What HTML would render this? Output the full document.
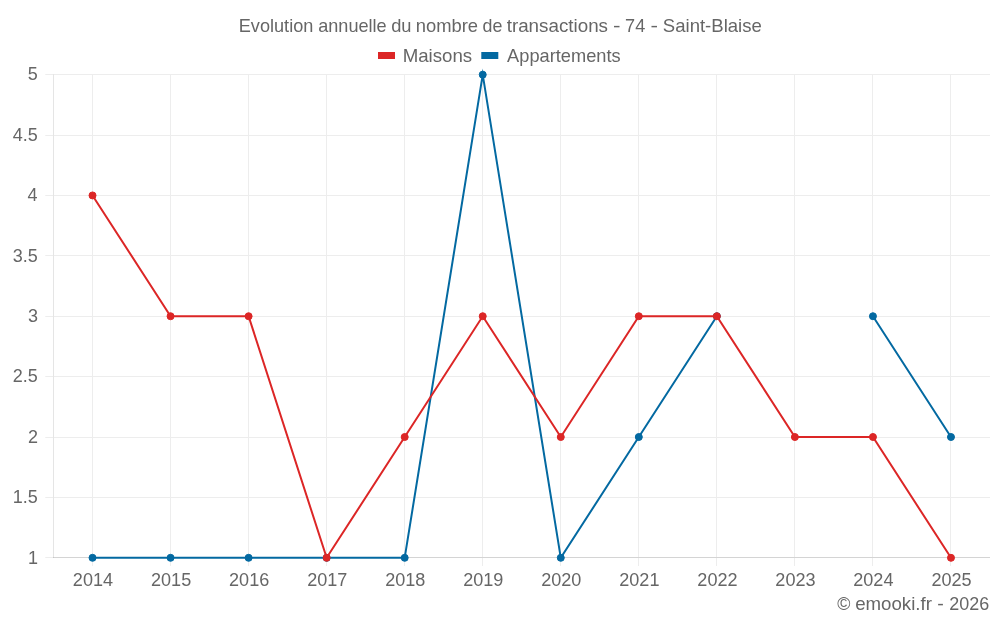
<!DOCTYPE html><html><head><meta charset="utf-8"><style>html,body{margin:0;padding:0;background:#fff}svg{display:block;will-change:transform}text{font-family:"Liberation Sans",sans-serif;font-size:18px;fill:#666666}</style></head><body>
<svg width="1000" height="625" viewBox="0 0 1000 625">
<rect width="1000" height="625" fill="#fff"/>
<g fill="#ededed">
<rect x="45.3" y="74" width="944.7" height="1"/>
<rect x="45.3" y="135" width="944.7" height="1"/>
<rect x="45.3" y="195" width="944.7" height="1"/>
<rect x="45.3" y="255" width="944.7" height="1"/>
<rect x="45.3" y="316" width="944.7" height="1"/>
<rect x="45.3" y="376" width="944.7" height="1"/>
<rect x="45.3" y="437" width="944.7" height="1"/>
<rect x="45.3" y="497" width="944.7" height="1"/>
<rect x="45.3" y="557" width="944.7" height="1"/>
<rect x="92" y="74" width="1" height="492"/>
<rect x="170" y="74" width="1" height="492"/>
<rect x="248" y="74" width="1" height="492"/>
<rect x="326" y="74" width="1" height="492"/>
<rect x="404" y="74" width="1" height="492"/>
<rect x="482" y="74" width="1" height="492"/>
<rect x="560" y="74" width="1" height="492"/>
<rect x="638" y="74" width="1" height="492"/>
<rect x="716" y="74" width="1" height="492"/>
<rect x="794" y="74" width="1" height="492"/>
<rect x="872" y="74" width="1" height="492"/>
<rect x="950" y="74" width="1" height="492"/>
<rect x="53" y="74" width="1" height="484" fill="#e5e5e5"/>
<rect x="53" y="557" width="937" height="1" fill="#d4d4d4"/><rect x="53" y="557" width="1" height="1" fill="#c6c6c6"/>
</g>
<path d="M92.52 557.80 L170.56 557.80 L248.60 557.80 L326.65 557.80 L404.69 557.80 L482.73 74.65 L560.77 557.80 L638.81 437.01 L716.85 316.22 M872.94 316.22 L950.98 437.01 " fill="none" stroke="#0369a1" stroke-width="2" stroke-linejoin="miter" stroke-miterlimit="10"/>
<circle cx="92.52" cy="557.80" r="3.5" fill="#0369a1" stroke="#0369a1" stroke-width="1"/>
<circle cx="170.56" cy="557.80" r="3.5" fill="#0369a1" stroke="#0369a1" stroke-width="1"/>
<circle cx="248.60" cy="557.80" r="3.5" fill="#0369a1" stroke="#0369a1" stroke-width="1"/>
<circle cx="326.65" cy="557.80" r="3.5" fill="#0369a1" stroke="#0369a1" stroke-width="1"/>
<circle cx="404.69" cy="557.80" r="3.5" fill="#0369a1" stroke="#0369a1" stroke-width="1"/>
<circle cx="482.73" cy="74.65" r="3.5" fill="#0369a1" stroke="#0369a1" stroke-width="1"/>
<circle cx="560.77" cy="557.80" r="3.5" fill="#0369a1" stroke="#0369a1" stroke-width="1"/>
<circle cx="638.81" cy="437.01" r="3.5" fill="#0369a1" stroke="#0369a1" stroke-width="1"/>
<circle cx="716.85" cy="316.22" r="3.5" fill="#0369a1" stroke="#0369a1" stroke-width="1"/>
<circle cx="872.94" cy="316.22" r="3.5" fill="#0369a1" stroke="#0369a1" stroke-width="1"/>
<circle cx="950.98" cy="437.01" r="3.5" fill="#0369a1" stroke="#0369a1" stroke-width="1"/>
<path d="M92.52 195.44 L170.56 316.22 L248.60 316.22 L326.65 557.80 L404.69 437.01 L482.73 316.22 L560.77 437.01 L638.81 316.22 L716.85 316.22 L794.90 437.01 L872.94 437.01 L950.98 557.80 " fill="none" stroke="#dc2626" stroke-width="2" stroke-linejoin="miter" stroke-miterlimit="10"/>
<circle cx="92.52" cy="195.44" r="3.5" fill="#dc2626" stroke="#dc2626" stroke-width="1"/>
<circle cx="170.56" cy="316.22" r="3.5" fill="#dc2626" stroke="#dc2626" stroke-width="1"/>
<circle cx="248.60" cy="316.22" r="3.5" fill="#dc2626" stroke="#dc2626" stroke-width="1"/>
<circle cx="326.65" cy="557.80" r="3.5" fill="#dc2626" stroke="#dc2626" stroke-width="1"/>
<circle cx="404.69" cy="437.01" r="3.5" fill="#dc2626" stroke="#dc2626" stroke-width="1"/>
<circle cx="482.73" cy="316.22" r="3.5" fill="#dc2626" stroke="#dc2626" stroke-width="1"/>
<circle cx="560.77" cy="437.01" r="3.5" fill="#dc2626" stroke="#dc2626" stroke-width="1"/>
<circle cx="638.81" cy="316.22" r="3.5" fill="#dc2626" stroke="#dc2626" stroke-width="1"/>
<circle cx="716.85" cy="316.22" r="3.5" fill="#dc2626" stroke="#dc2626" stroke-width="1"/>
<circle cx="794.90" cy="437.01" r="3.5" fill="#dc2626" stroke="#dc2626" stroke-width="1"/>
<circle cx="872.94" cy="437.01" r="3.5" fill="#dc2626" stroke="#dc2626" stroke-width="1"/>
<circle cx="950.98" cy="557.80" r="3.5" fill="#dc2626" stroke="#dc2626" stroke-width="1"/>
<rect x="378" y="52" width="17" height="7" fill="#dc2626"/>
<rect x="481.3" y="52" width="17" height="7" fill="#0369a1"/>
<text transform="translate(238.74,31.70) scale(1.0084,1.040)">Evolution</text>
<text transform="translate(318.20,31.70) scale(1.0060,1.040)">annuelle</text>
<text transform="translate(391.19,31.70) scale(1.0167,1.040)">du</text>
<text transform="translate(415.77,31.70) scale(1.0212,1.040)">nombre</text>
<text transform="translate(482.46,31.70) scale(0.9918,1.040)">de</text>
<text transform="translate(506.69,31.70) scale(1.0447,1.040)">transactions</text>
<text transform="translate(613.00,31.70) scale(1.2500,1.040)">-</text>
<text transform="translate(625.09,31.70) scale(1.0081,1.040)">74</text>
<text transform="translate(650.40,31.70) scale(1.2500,1.040)">-</text>
<text transform="translate(662.82,31.70) scale(1.0313,1.040)">Saint-Blaise</text>
<text transform="translate(402.69,61.70) scale(1.0378,1.040)">Maisons</text>
<text transform="translate(507.10,61.70) scale(1.0135,1.040)">Appartements</text>
<text transform="translate(837.30,609.70) scale(0.9921,1.000)">©</text>
<text transform="translate(855.17,609.70) scale(1.0370,1.040)">emooki.fr</text>
<text transform="translate(937.13,609.70) scale(1.0909,1.000)">-</text>
<text transform="translate(949.30,609.70) scale(0.9974,1.000)">2026</text>
<text transform="translate(27.80,80.45) scale(1.0000,1.010)">5</text>
<text transform="translate(12.80,140.84) scale(1.0000,1.010)">4.5</text>
<text transform="translate(27.60,201.24) scale(1.0000,1.010)">4</text>
<text transform="translate(12.80,261.63) scale(1.0000,1.010)">3.5</text>
<text transform="translate(27.90,322.03) scale(1.0000,1.010)">3</text>
<text transform="translate(12.80,382.42) scale(1.0000,1.010)">2.5</text>
<text transform="translate(28.00,442.81) scale(1.0000,1.010)">2</text>
<text transform="translate(12.80,503.21) scale(1.0000,1.010)">1.5</text>
<text transform="translate(28.00,563.60) scale(1.0000,1.010)">1</text>
<text transform="translate(72.82,585.90) scale(1.0050,1.010)">2014</text>
<text transform="translate(150.96,585.90) scale(1.0050,1.010)">2015</text>
<text transform="translate(229.05,585.90) scale(1.0050,1.010)">2016</text>
<text transform="translate(307.15,585.90) scale(1.0050,1.010)">2017</text>
<text transform="translate(385.14,585.90) scale(1.0050,1.010)">2018</text>
<text transform="translate(463.18,585.90) scale(1.0050,1.010)">2019</text>
<text transform="translate(541.17,585.90) scale(1.0050,1.010)">2020</text>
<text transform="translate(619.26,585.90) scale(1.0050,1.010)">2021</text>
<text transform="translate(697.35,585.90) scale(1.0050,1.010)">2022</text>
<text transform="translate(775.35,585.90) scale(1.0050,1.010)">2023</text>
<text transform="translate(853.24,585.90) scale(1.0050,1.010)">2024</text>
<text transform="translate(931.38,585.90) scale(1.0050,1.010)">2025</text>
</svg></body></html>
